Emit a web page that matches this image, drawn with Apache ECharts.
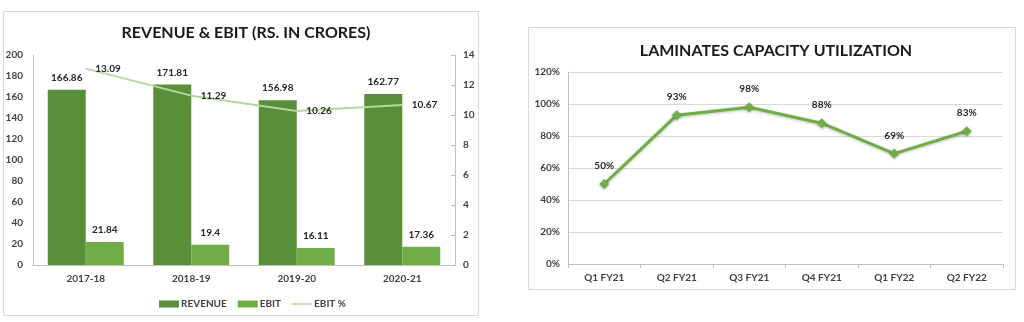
<!DOCTYPE html>
<html>
<head>
<meta charset="utf-8">
<script src="https://cdn.jsdelivr.net/npm/echarts@6/dist/echarts.min.js"></script>
<style>
  html, body { margin: 0; padding: 0; background: #ffffff; }
  #chart { width: 1024px; height: 322px; }
</style>
</head>
<body>
<div id="chart"></div>
<script>
// Revenue & EBIT by financial year
const years = ['2017-18', '2018-19', '2019-20', '2020-21'];
const revenue = [166.86, 171.81, 156.98, 162.77];
const ebit = [21.84, 19.4, 16.11, 17.36];
const ebitPct = [13.09, 11.29, 10.26, 10.67];

// Laminates capacity utilization by quarter (percent)
const quarters = ['Q1 FY21', 'Q2 FY21', 'Q3 FY21', 'Q4 FY21', 'Q1 FY22', 'Q2 FY22'];
const utilization = [50, 93, 98, 88, 69, 83];

const FONT = 'Lato, "Open Sans", sans-serif';
const TXT = '#404040';
const AXIS = '#bfbfbf';

const valueLabel = {
  show: true, fontFamily: FONT, fontSize: 10, fontWeight: 'bold', color: '#262626'
};

const chart = echarts.init(document.getElementById('chart'), null, { renderer: 'canvas' });

chart.setOption({
  animation: false,
  textStyle: { fontFamily: FONT },
  graphic: [
    { type: 'rect', shape: { x: 3.5, y: 11.5, width: 475, height: 304 },
      style: { fill: 'none', stroke: '#d9d9d9', lineWidth: 1 }, silent: true },
    { type: 'rect', shape: { x: 528.5, y: 27.5, width: 487, height: 262 },
      style: { fill: 'none', stroke: '#d9d9d9', lineWidth: 1 }, silent: true }
  ],
  title: [
    { text: 'REVENUE & EBIT (RS. IN CRORES)', left: 241, top: 20, textAlign: 'center',
      textStyle: { fontFamily: FONT, fontSize: 16, fontWeight: 'bold', color: '#1a1a1a' } },
    { text: 'LAMINATES CAPACITY UTILIZATION', left: 771, top: 38, textAlign: 'center',
      textStyle: { fontFamily: FONT, fontSize: 16, fontWeight: 'bold', color: '#1a1a1a' } }
  ],
  legend: {
    left: 154, top: 294, itemWidth: 20, itemHeight: 7, itemGap: 11,
    symbolKeepAspect: true,
    textStyle: { fontFamily: FONT, fontSize: 10, fontWeight: 'bold', color: TXT, padding: [0, 0, 0, -3] },
    data: [
      { name: 'REVENUE', icon: 'rect' },
      { name: 'EBIT', icon: 'rect' },
      { name: 'EBIT %', icon: 'path://M0,0 L40,0 L40,3 L0,3 Z' }
    ]
  },
  grid: [
    { left: 33, right: 569, top: 55, bottom: 57 },
    { left: 568, right: 21, top: 72, bottom: 58 }
  ],
  xAxis: [
    { type: 'category', gridIndex: 0, data: years,
      axisLine: { lineStyle: { color: AXIS } }, axisTick: { show: false },
      axisLabel: { margin: 9, fontFamily: FONT, fontSize: 10, fontWeight: 'bold', color: TXT } },
    { type: 'category', gridIndex: 1, data: quarters,
      axisLine: { lineStyle: { color: AXIS } },
      axisTick: { show: true, length: 4, lineStyle: { color: AXIS } },
      axisLabel: { margin: 9, fontFamily: FONT, fontSize: 10, fontWeight: 'bold', color: TXT } }
  ],
  yAxis: [
    { type: 'value', gridIndex: 0, min: 0, max: 200, interval: 20,
      axisLine: { show: true, lineStyle: { color: AXIS } }, axisTick: { show: false },
      splitLine: { show: false },
      axisLabel: { margin: 10, fontFamily: FONT, fontSize: 10, fontWeight: 'bold', color: TXT } },
    { type: 'value', gridIndex: 0, min: 0, max: 14, interval: 2, position: 'right',
      axisLine: { show: true, lineStyle: { color: AXIS } },
      axisTick: { show: true, inside: true, length: 4, lineStyle: { color: AXIS } },
      splitLine: { show: false },
      axisLabel: { margin: 8, fontFamily: FONT, fontSize: 10, fontWeight: 'bold', color: TXT } },
    { type: 'value', gridIndex: 1, min: 0, max: 120, interval: 20,
      axisLine: { show: true, lineStyle: { color: AXIS } }, axisTick: { show: false },
      splitLine: { show: true, lineStyle: { color: '#d9d9d9' } },
      axisLabel: { margin: 8, fontFamily: FONT, fontSize: 10, fontWeight: 'bold', color: TXT,
        formatter: v => v + '%' } }
  ],
  series: [
    { name: 'REVENUE', type: 'bar', xAxisIndex: 0, yAxisIndex: 0, data: revenue,
      barGap: '0%', barCategoryGap: '28%',
      itemStyle: { color: '#5a8f3a' },
      label: Object.assign({ position: 'top', distance: 7 }, valueLabel) },
    { name: 'EBIT', type: 'bar', xAxisIndex: 0, yAxisIndex: 0, data: ebit,
      itemStyle: { color: '#70ad47' },
      label: Object.assign({ position: 'top', distance: 7 }, valueLabel) },
    { name: 'EBIT %', type: 'line', xAxisIndex: 0, yAxisIndex: 1, data: ebitPct,
      symbol: 'none',
      lineStyle: { color: '#b4d7a0', width: 2 }, itemStyle: { color: '#b4d7a0' }, z: 5 },
    // value labels for the EBIT % line (points themselves are not drawn)
    { name: 'EBIT % values', type: 'line', xAxisIndex: 0, yAxisIndex: 1, data: ebitPct,
      symbol: 'circle', symbolSize: 1, showSymbol: true,
      lineStyle: { width: 0, opacity: 0 }, itemStyle: { color: 'transparent' },
      label: Object.assign({ position: 'right', distance: 9 }, valueLabel), z: 6, silent: true },
    { name: 'Utilization', type: 'line', xAxisIndex: 1, yAxisIndex: 2, data: utilization,
      symbol: 'diamond', symbolSize: 10,
      lineStyle: { color: '#6fad46', width: 3, shadowColor: 'rgba(0,0,0,0.25)', shadowBlur: 3, shadowOffsetY: 1 },
      itemStyle: { color: '#6fad46', shadowColor: 'rgba(0,0,0,0.3)', shadowBlur: 3, shadowOffsetY: 1 },
      label: Object.assign({ position: 'top', distance: 8, formatter: p => p.value + '%' }, valueLabel) }
  ]
});
</script>
</body>
</html>
